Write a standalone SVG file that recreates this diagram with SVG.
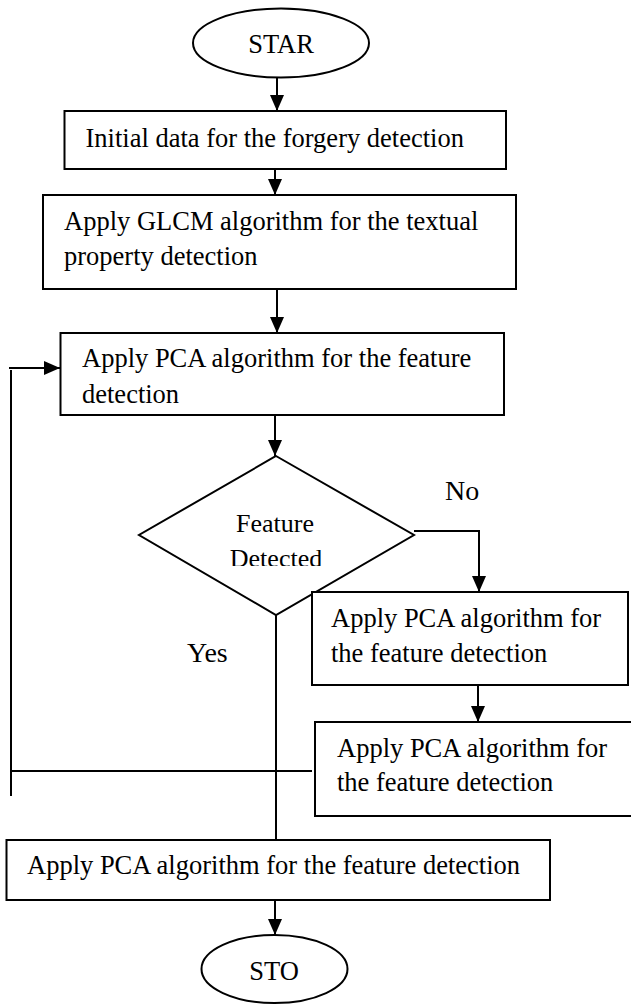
<svg xmlns="http://www.w3.org/2000/svg" width="631" height="1005" viewBox="0 0 631 1005">
<style>
.n{fill:#fff;stroke:#000;stroke-width:2}
.t{font-size:26.5px;fill:#000}
.c{text-anchor:middle}
.lbl{font-size:28px}
.e{fill:none;stroke:#000;stroke-width:2}
</style>
<defs>
<marker id="ah" markerWidth="16" markerHeight="14" refX="16" refY="7" orient="auto" markerUnits="userSpaceOnUse">
<path d="M0,0 L16,7 L0,14 z" fill="#000"/>
</marker>
<clipPath id="dclip"><rect x="0" y="0" width="631" height="566"/></clipPath>
</defs>
<rect width="631" height="1005" fill="#fff"/>
<g id="connectors">
<line class="e" x1="277" y1="77" x2="277" y2="111" marker-end="url(#ah)"/>
<line class="e" x1="275" y1="169" x2="275" y2="195" marker-end="url(#ah)"/>
<line class="e" x1="277" y1="289" x2="277" y2="333" marker-end="url(#ah)"/>
<line class="e" x1="275" y1="415" x2="275" y2="456" marker-end="url(#ah)"/>
<path class="e" d="M414,531 H479 V592" marker-end="url(#ah)"/>
<line class="e" x1="478" y1="682" x2="478" y2="722" marker-end="url(#ah)"/>
<line class="e" x1="276" y1="604" x2="276" y2="840"/>
<line class="e" x1="312" y1="771" x2="11" y2="771"/>
<line class="e" x1="11" y1="370" x2="11" y2="796"/>
<line class="e" x1="9" y1="368" x2="60" y2="368" marker-end="url(#ah)"/>
<line class="e" x1="275" y1="898" x2="275" y2="935" marker-end="url(#ah)"/>
</g>
<g font-family="'Liberation Serif', 'Times New Roman', serif">
<g id="start">
<ellipse class="n" cx="281" cy="43" rx="88" ry="34.5"/>
<text class="t c" x="281" y="53">STAR</text>
</g>
<g id="initial">
<rect class="n" x="64.5" y="111" width="441.5" height="58"/>
<text class="t" x="85.5" y="147">Initial data for the forgery detection</text>
</g>
<g id="glcm">
<rect class="n" x="43" y="195" width="473" height="94"/>
<text class="t" x="64" y="230">Apply GLCM algorithm for the textual</text>
<text class="t" x="64" y="265">property detection</text>
</g>
<g id="pca1">
<rect class="n" x="60.5" y="333" width="443.5" height="82"/>
<text class="t" x="82" y="367">Apply PCA algorithm for the feature</text>
<text class="t" x="82" y="403">detection</text>
</g>
<g id="decision">
<polygon class="n" points="276,456 414,535 276,615 139,535"/>
<text class="t c" x="275" y="532" style="font-size:26px">Feature</text>
<text class="t c" x="276" y="566.5" style="font-size:26px" clip-path="url(#dclip)">Detected</text>
</g>
<g id="labels">
<text class="t lbl" x="445" y="500">No</text>
<text class="t lbl" x="187" y="662">Yes</text>
</g>
<g id="pca2">
<rect class="n" x="312" y="592" width="316" height="93"/>
<text class="t" x="331" y="627">Apply PCA algorithm for</text>
<text class="t" x="331" y="662">the feature detection</text>
</g>
<g id="pca3">
<rect class="n" x="315" y="722" width="320" height="94"/>
<text class="t" x="337" y="757">Apply PCA algorithm for</text>
<text class="t" x="337" y="791">the feature detection</text>
</g>
<g id="pca4">
<rect class="n" x="6.5" y="840" width="543.5" height="60"/>
<text class="t" x="27" y="874">Apply PCA algorithm for the feature detection</text>
</g>
<g id="stop">
<ellipse class="n" cx="274.5" cy="969" rx="73" ry="34"/>
<text class="t c" x="274" y="980">STO</text>
</g>
</g>
</svg>
